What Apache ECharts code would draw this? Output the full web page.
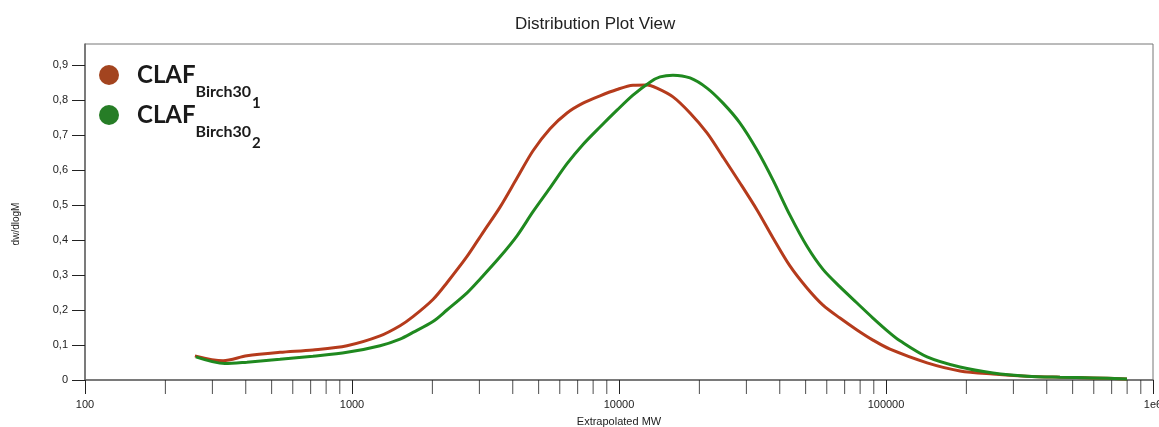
<!DOCTYPE html>
<html>
<head>
<meta charset="utf-8">
<script src="https://cdn.jsdelivr.net/npm/echarts@6/dist/echarts.min.js"></script>
<style>
  html, body { margin: 0; padding: 0; background: #fff; }
  #chart { width: 1159px; height: 427px; }
</style>
</head>
<body>
<div id="chart"></div>
<script>
// molar mass distribution: [MW, dw/dlogM]
const birch30_1 = [
  [258, 0.069], [329, 0.055], [404, 0.069], [537, 0.079], [714, 0.086], [958, 0.098],
  [1274, 0.126], [1513, 0.155], [1692, 0.181], [2010, 0.230], [2268, 0.278], [2697, 0.353],
  [3097, 0.422], [3585, 0.494], [4150, 0.577], [4764, 0.655], [5517, 0.718], [6388, 0.763],
  [7332, 0.791], [8490, 0.812], [9830, 0.830], [11280, 0.842], [12730, 0.843], [13870, 0.834],
  [15930, 0.809], [18450, 0.763], [21360, 0.706], [24530, 0.637], [28390, 0.563], [32880, 0.486],
  [37750, 0.406], [43670, 0.326], [50580, 0.263], [58080, 0.214], [67240, 0.177], [77860, 0.143],
  [89360, 0.114], [103500, 0.088], [142500, 0.049], [189300, 0.026], [251700, 0.017],
  [337300, 0.011], [448600, 0.008], [596000, 0.006], [799300, 0.003]
];
const birch30_2 = [
  [260, 0.066], [334, 0.047], [404, 0.051], [537, 0.059], [714, 0.068], [958, 0.079],
  [1274, 0.098], [1513, 0.117], [1692, 0.136], [2010, 0.167], [2268, 0.200], [2697, 0.249],
  [3015, 0.288], [3585, 0.352], [4150, 0.412], [4764, 0.481], [5517, 0.549], [6388, 0.618],
  [7332, 0.673], [8490, 0.723], [9830, 0.771], [11280, 0.814], [13060, 0.851], [14250, 0.866],
  [15930, 0.871], [18450, 0.863], [21360, 0.834], [24530, 0.791], [28390, 0.734], [32880, 0.657],
  [37750, 0.571], [43670, 0.471], [50580, 0.382], [58080, 0.316], [67240, 0.266], [77860, 0.220],
  [89360, 0.177], [103500, 0.134], [112800, 0.112], [142500, 0.066], [189300, 0.037], [251700, 0.020],
  [337300, 0.011], [448600, 0.008], [596000, 0.006], [799300, 0.003]
];
const yTicks = [0, 0.1, 0.2, 0.3, 0.4, 0.5, 0.6, 0.7, 0.8, 0.9];
const minorTicks = [
  200, 300, 400, 500, 600, 700, 800, 900,
  2000, 3000, 4000, 5000, 6000, 7000, 8000, 9000,
  20000, 30000, 40000, 50000, 60000, 70000, 80000, 90000,
  200000, 300000, 400000, 500000, 600000, 700000, 800000, 900000
];

const font = 'Liberation Sans, Arial, sans-serif';
const legendRich = {
  a: { fontFamily: 'Lato', fontWeight: 'bold', fontSize: 24, lineHeight: 24, color: '#1a1a1a',
       verticalAlign: 'top', padding: [0, 0, 0, 13] },
  b: { fontFamily: 'Lato', fontWeight: 'bold', fontSize: 16, lineHeight: 16, color: '#1a1a1a',
       verticalAlign: 'top', padding: [21, 0, 0, 0] },
  c: { fontFamily: 'Lato', fontWeight: 'bold', fontSize: 15, lineHeight: 15, color: '#1a1a1a',
       verticalAlign: 'top', padding: [33, 0, 0, 1] }
};

const chart = echarts.init(document.getElementById('chart'));
chart.setOption({
  backgroundColor: '#fff',
  animation: false,
  title: {
    text: 'Distribution Plot View',
    left: 510, top: 11,
    textStyle: { fontFamily: font, fontSize: 17, fontWeight: 'normal', color: '#222' }
  },
  legend: {
    orient: 'vertical',
    left: 99, top: 63,
    padding: 0,
    itemGap: -8,
    itemWidth: 20, itemHeight: 20,
    icon: 'circle',
    data: [
      { name: 'CLAF Birch30 1', itemStyle: { color: '#a3441f' } },
      { name: 'CLAF Birch30 2', itemStyle: { color: '#267d26' } }
    ],
    formatter: function (name) {
      const p = name.split(' ');
      return '{a|' + p[0] + '}{b|' + p[1] + '}{c|' + p[2] + '}';
    },
    textStyle: { rich: legendRich }
  },
  grid: {
    left: 85, right: 6, top: 44, bottom: 47,
    outerBoundsMode: 'none',
    containLabel: false,
    show: true, borderColor: '#777', borderWidth: 1
  },
  xAxis: {
    type: 'log',
    logBase: 10,
    min: 100, max: 1000000,
    name: 'Extrapolated MW',
    nameLocation: 'middle',
    nameGap: 36,
    nameTextStyle: { fontFamily: font, fontSize: 11, color: '#222' },
    axisLine: { lineStyle: { color: '#666', width: 1.5 } },
    axisTick: { length: 14, lineStyle: { color: '#222' } },
    axisLabel: {
      margin: 19, fontFamily: font, fontSize: 11, color: '#222',
      formatter: function (v) { return v >= 1000000 ? '1e6' : String(Math.round(v)); }
    },
    splitLine: { show: false }
  },
  yAxis: {
    type: 'value',
    min: 0, max: 0.96,
    name: 'dw/dlogM',
    nameLocation: 'middle',
    nameGap: 64,
    nameTextStyle: { fontFamily: font, fontSize: 10, color: '#222', padding: [0, 24, 0, 0] },
    axisLine: { show: true, lineStyle: { color: '#666', width: 1.5 } },
    axisTick: { show: true, length: 13, customValues: yTicks, lineStyle: { color: '#222' } },
    axisLabel: {
      margin: 17, fontFamily: font, fontSize: 11, color: '#222',
      customValues: yTicks,
      formatter: function (v) { return v === 0 ? '0' : v.toFixed(1).replace('.', ','); }
    },
    splitLine: { show: false }
  },
  series: [
    {
      name: 'CLAF Birch30 1',
      type: 'line',
      data: birch30_1,
      smooth: 0.3,
      showSymbol: false,
      color: '#b53b1c',
      lineStyle: { color: '#b53b1c', width: 3 }
    },
    {
      name: 'CLAF Birch30 2',
      type: 'line',
      data: birch30_2,
      smooth: 0.3,
      showSymbol: false,
      color: '#1f891f',
      lineStyle: { color: '#1f891f', width: 3 }
    },
    {
      // minor log ticks under the x axis
      name: 'minor ticks',
      type: 'scatter',
      data: minorTicks.map(function (m) { return [m, 0]; }),
      symbol: 'rect',
      symbolSize: [1, 14],
      symbolOffset: [0, 7],
      itemStyle: { color: '#222' },
      clip: false,
      silent: true,
      z: 1
    }
  ]
});
</script>
</body>
</html>
